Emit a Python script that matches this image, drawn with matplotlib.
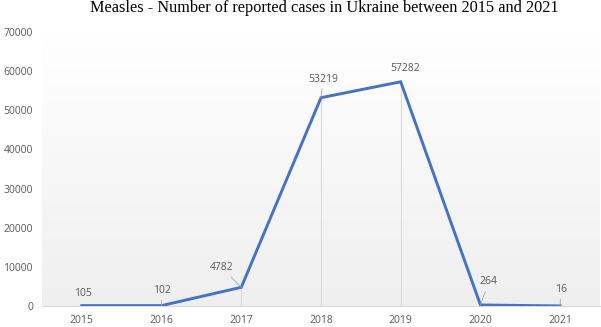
import matplotlib
matplotlib.use("Agg")
import matplotlib.pyplot as plt
import numpy as np

years = ["2015", "2016", "2017", "2018", "2019", "2020", "2021"]
cases = [105, 102, 4782, 53219, 57282, 264, 16]
# label offsets (points) from each data point, and whether a leader line shows
label_dx = [1, 0, -14, 1.4, 3, 6, 0.5]
label_dy = [8.6, 10.8, 14, 13, 9.4, 16.6, 12]
leader = [False, True, True, True, False, True, True]

fig = plt.figure(figsize=(6.01, 3.27), dpi=100)
ax = fig.add_axes([42 / 601, 21 / 327, 558 / 601, 274 / 327])

x = np.arange(len(years))
ax.set_xlim(-0.5, len(years) - 0.5)
ax.set_ylim(0, 70000)

# soft vertical gradient behind the plot
grad = np.linspace(0, 1, 256).reshape(-1, 1)
ax.imshow(grad, extent=[-0.5, len(years) - 0.5, 0, 70000], aspect="auto",
          cmap=matplotlib.colors.LinearSegmentedColormap.from_list("g", ["#efefef", "#ffffff"]),
          origin="lower", zorder=0)

# drop lines
ax.vlines(x, 0, cases, color="#d9d9d9", lw=0.8, zorder=1)
ax.plot(x, cases, color="#4472c4", lw=2.1, zorder=3, solid_joinstyle="miter")

for xi, v, dx, dy, ld in zip(x, cases, label_dx, label_dy, leader):
    props = dict(arrowstyle="-", color="#a6a6a6", lw=0.6, shrinkA=1, shrinkB=0) if ld else None
    ax.annotate(str(v), (xi, v), xytext=(dx, dy), textcoords="offset points",
                ha="center", va="center", fontsize=7.5, color="#595959",
                family="Open Sans", arrowprops=props, zorder=4)

ax.set_xticks(x)
ax.set_xticklabels(years)
ax.set_yticks(range(0, 70001, 10000))
for lab in ax.get_xticklabels() + ax.get_yticklabels():
    lab.set_family("Open Sans")
    lab.set_fontsize(7.5)
    lab.set_color("#595959")
ax.tick_params(length=0)
ax.tick_params(axis="x", pad=6.5)
ax.tick_params(axis="y", pad=6.5)
for s in ["top", "right", "left"]:
    ax.spines[s].set_visible(False)
ax.spines["bottom"].set_color("#d9d9d9")

fig.text(324.5 / 601, 1 - 8.5 / 327, "Measles - Number of reported cases in Ukraine between 2015 and 2021",
         ha="center", va="center", family="Liberation Serif", fontsize=11.7)

fig.savefig("out.png", dpi=100)
